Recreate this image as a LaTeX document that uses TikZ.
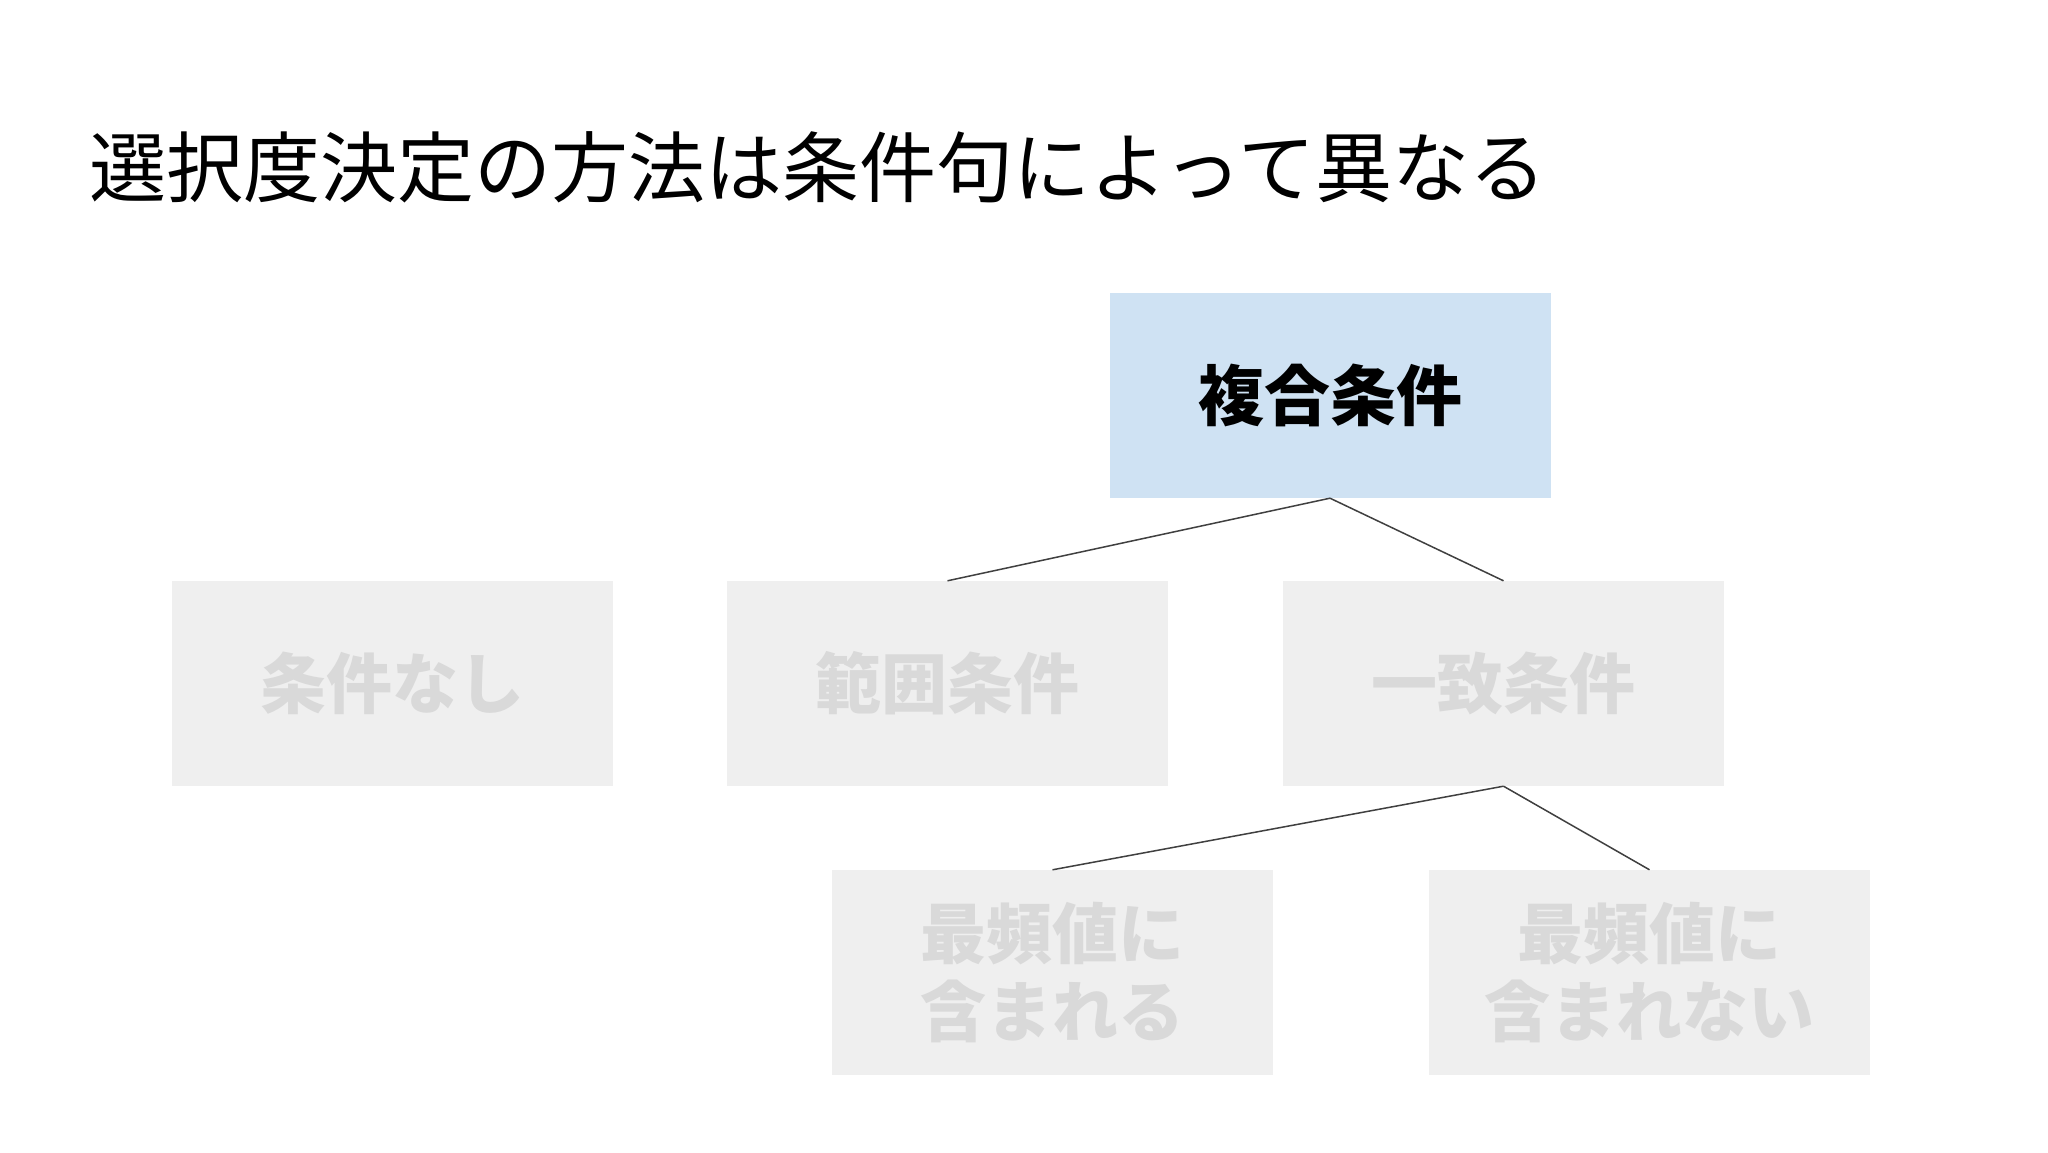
\documentclass[tikz,border=0pt]{standalone}
\usepackage{fontspec}
\newfontfamily\cjk{Noto Sans CJK JP}
\definecolor{boxblue}{HTML}{CFE2F3}
\definecolor{boxgray}{HTML}{EFEFEF}
\definecolor{txtgray}{HTML}{D9D9D9}
\definecolor{linegray}{HTML}{404040}
\begin{document}
\begin{tikzpicture}[x=1pt,y=1pt,
  box/.style={minimum width=441pt,minimum height=205pt,inner sep=0pt,align=center,
    font=\cjk\bfseries\fontsize{66}{78}\selectfont},
  active/.style={box,fill=boxblue,text=black},
  inactive/.style={box,fill=boxgray,text=txtgray},
  conn/.style={draw=linegray,line width=1.5pt}]
\useasboundingbox (0,0) rectangle (2048,1152);
\fill[white] (0,0) rectangle (2048,1152);
\node[anchor=west,inner sep=0pt,font=\cjk\fontsize{77}{88}\selectfont] (title) at (89,985) {選択度決定の方法は条件句によって異なる};
\node[active] (fukugo) at (1330,756.5) {複合条件};
\node[inactive] (nashi) at (392.5,468.5) {条件なし};
\node[inactive] (hanni) at (947.5,468.5) {範囲条件};
\node[inactive] (icchi) at (1503.5,468.5) {一致条件};
\node[inactive] (incl) at (1052.5,179.5) {最頻値に\\含まれる};
\node[inactive] (excl) at (1649.5,179.5) {最頻値に\\含まれない};
\draw[conn] (fukugo.south) -- (hanni.north);
\draw[conn] (fukugo.south) -- (icchi.north);
\draw[conn] (icchi.south) -- (incl.north);
\draw[conn] (icchi.south) -- (excl.north);
\end{tikzpicture}
\end{document}
